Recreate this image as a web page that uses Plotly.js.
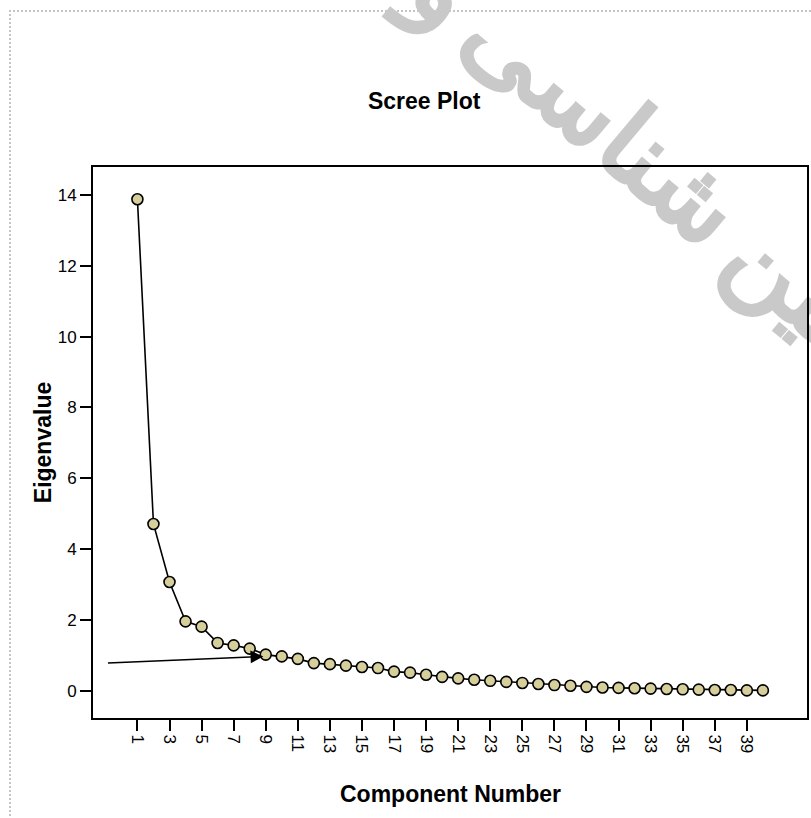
<!DOCTYPE html>
<html>
<head>
<meta charset="utf-8">
<script src="https://cdn.plot.ly/plotly-3.0.1.min.js"></script>
<style>
  html, body { margin: 0; padding: 0; background: #ffffff; overflow: hidden; }
  #frame { position: absolute; left: 9px; top: 10px; width: 1000px; height: 1000px;
           border-top: 2px dotted #c4c4c4; border-left: 2px dotted #c4c4c4; z-index: 0; }
  #wm { position: absolute; left: 668px; top: 174px; z-index: 1;
        transform: translate(-50%, -50%) rotate(40deg);
        white-space: nowrap; direction: rtl; word-spacing: -14px;
        font-family: "DejaVu Sans", sans-serif; font-weight: normal; font-size: 104px;
        color: #c9c9c9; -webkit-text-stroke: 4px #c9c9c9; line-height: 1; }
  #plot { position: absolute; left: 0; top: 0; width: 811px; height: 818px; z-index: 2; }
</style>
</head>
<body>
<div id="frame"></div>
<div id="wm">زمین شناسی و</div>
<div id="plot"></div>
<script>
// Data
const components = [1,2,3,4,5,6,7,8,9,10,11,12,13,14,15,16,17,18,19,20,21,22,23,24,25,26,27,28,29,30,31,32,33,34,35,36,37,38,39,40];
const eigenvalues = [13.88,4.71,3.07,1.96,1.81,1.35,1.28,1.19,1.02,0.97,0.90,0.78,0.75,0.71,0.67,0.64,0.54,0.51,0.45,0.39,0.35,0.31,0.28,0.25,0.22,0.19,0.16,0.14,0.11,0.09,0.08,0.07,0.06,0.05,0.04,0.03,0.02,0.02,0.01,0.01];
const xTickVals = [1,3,5,7,9,11,13,15,17,19,21,23,25,27,29,31,33,35,37,39];
const xTickText = ["1","3","5","7","9","11","13","15","17","19","21","23","25","27","29","31","33","35","37","39"];
const yTickVals = [0,2,4,6,8,10,12,14];
const yTickText = ["0","2","4","6","8","10","12","14"];
const titleText = "Scree Plot";
const xTitle = "Component Number";
const yTitle = "Eigenvalue";
// arrow pointing at the elbow (component 9)
const arrowTail = {x: -0.93, y: 0.78};
const arrowHead = {x: 8.85, y: 0.97};

const font = "Liberation Sans, Arial, Helvetica, sans-serif";

const trace = {
  x: components,
  y: eigenvalues,
  type: "scatter",
  mode: "lines+markers",
  line: {color: "#000000", width: 1.6},
  marker: {size: 11, color: "#d6cf9b", line: {color: "#000000", width: 1.6}},
  hoverinfo: "x+y"
};

const layout = {
  width: 811,
  height: 818,
  margin: {l: 93, r: 4, t: 167, b: 100, pad: 0},
  paper_bgcolor: "rgba(0,0,0,0)",
  plot_bgcolor: "rgba(0,0,0,0)",
  showlegend: false,
  font: {family: font, color: "#000000", size: 17},
  title: {
    text: "<b>" + titleText + "</b>",
    font: {family: font, size: 23, color: "#000000"},
    xref: "container", x: 0.523, xanchor: "center",
    yref: "container", y: 0.876, yanchor: "middle"
  },
  xaxis: {
    range: [-1.77, 42.75],
    tickmode: "array",
    tickvals: xTickVals,
    ticktext: xTickText,
    tickangle: 90,
    ticks: "outside",
    ticklen: 11,
    tickwidth: 2,
    tickcolor: "#000000",
    tickfont: {family: font, size: 17, color: "#000000"},
    showline: true,
    linecolor: "#000000",
    linewidth: 2,
    mirror: true,
    showgrid: false,
    zeroline: false
  },
  yaxis: {
    range: [-0.77, 14.79],
    tickmode: "array",
    tickvals: yTickVals,
    ticktext: yTickText,
    ticks: "outside",
    ticklen: 11,
    tickwidth: 2,
    tickcolor: "#000000",
    tickfont: {family: font, size: 17, color: "#000000"},
    showline: true,
    linecolor: "#000000",
    linewidth: 2,
    mirror: true,
    showgrid: false,
    zeroline: false,
    title: {text: "<b>" + yTitle + "</b>", font: {family: font, size: 23, color: "#000000"}, standoff: 0}
  },
  annotations: [{
    x: arrowHead.x, y: arrowHead.y, xref: "x", yref: "y",
    ax: arrowTail.x, ay: arrowTail.y, axref: "x", ayref: "y",
    text: "", showarrow: true,
    arrowhead: 2, arrowsize: 1.7, arrowwidth: 1.5, arrowcolor: "#000000",
    standoff: 0, startstandoff: 0
  }, {
    text: "<b>" + xTitle + "</b>",
    font: {family: font, size: 23, color: "#000000"},
    xref: "paper", x: 0.5, xanchor: "center",
    yref: "paper", y: -0.138, yanchor: "middle",
    showarrow: false
  }]
};

Plotly.newPlot("plot", [trace], layout, {displayModeBar: false, staticPlot: true});
</script>
</body>
</html>
